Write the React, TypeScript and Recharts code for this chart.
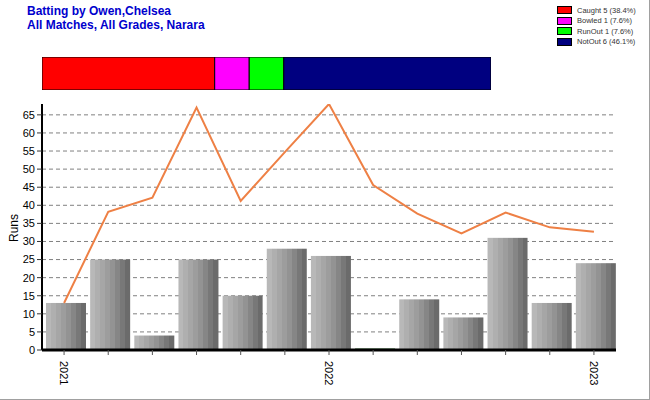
import React from 'react'
import {
  ComposedChart,
  BarChart,
  Bar,
  Line,
  XAxis,
  YAxis,
  CartesianGrid,
} from 'recharts'

// one entry per match, oldest first
const matches = ['1', '2', '3', '4', '5', '6', '7', '8', '9', '10', '11', '12', '13']
const runs = [13, 25, 4, 25, 15, 28, 26, 0, 14, 9, 31, 13, 24]
const average = [13, 38.2, 42.1, 67, 41.2, 54.7, 68, 45.6, 37.7, 32.2, 38, 33.9, 32.7]
const yearLabels = ['2021', '', '', '', '', '', '2022', '', '', '', '', '', '2023']
const runTicks = [0, 5, 10, 15, 20, 25, 30, 35, 40, 45, 50, 55, 60, 65]

const dismissalTypes = ['Caught', 'Bowled', 'RunOut', 'NotOut']
const dismissalCounts = [5, 1, 1, 6]
const dismissalColors = ['#FF0000', '#FF00FF', '#00FF00', '#000080']

const matchData = matches.map((m, i) => ({
  match: m,
  runs: runs[i],
  avg: average[i],
}))

const dismissalRow = [
  dismissalTypes.reduce(
    (row, t, i) => ({ ...row, [t]: dismissalCounts[i] }),
    { name: 'dismissals' } as Record<string, number | string>
  ),
]

const totalInnings = dismissalCounts.reduce((a, b) => a + b, 0)
const pctLabel = (n: number) => (Math.floor((n * 1000) / totalInnings) / 10).toFixed(1)

const stripes = ['#B8B8B8', '#AFAFAF', '#A6A6A6', '#9D9D9D', '#939393', '#868686', '#787878', '#6B6B6B']

// bars in the original sit a couple of px right of the tick
const StripedBar = (props: any) => {
  const { x, y, width, height } = props
  if (!height || height < 0.5) {
    return <rect x={x + 2} y={y - 1.5} width={width} height={1.5} fill='#2E6B2E' />
  }
  return <rect x={x + 2} y={y} width={width} height={height} fill='url(#barStripes)' />
}

const YearTick = (props: any) => {
  const { x, y, payload } = props
  const label = yearLabels[matches.indexOf(payload.value)]
  if (!label) return null
  return (
    <g transform={`translate(${x},${y})`}>
      <text
        transform='rotate(90)'
        x={4}
        y={0}
        dy='0.35em'
        textAnchor='start'
        fontSize={11}
        fontFamily='Arial, Liberation Sans, sans-serif'
        fill='#000'
      >
        {label}
      </text>
    </g>
  )
}

const App = () => {
  return (
    <div
      style={{
        position: 'absolute',
        left: 0,
        top: 0,
        width: 649,
        height: 399,
        background: '#fff',
        borderRight: '1px solid #A0A0A0',
        borderBottom: '1px solid #A0A0A0',
        fontFamily: 'Arial, Liberation Sans, sans-serif',
        overflow: 'hidden',
      }}
    >
      <div
        style={{
          position: 'absolute',
          left: 27,
          top: 5,
          fontSize: 12,
          fontWeight: 'bold',
          lineHeight: '13.5px',
          color: '#0000CD',
        }}
      >
        <div>Batting by Owen,Chelsea</div>
        <div>All Matches, All Grades, Narara</div>
      </div>

      <div style={{ position: 'absolute', left: 557, top: 5, fontSize: 7.5, color: '#333' }}>
        {dismissalTypes.map((t, i) => (
          <div key={t} style={{ display: 'flex', alignItems: 'center', height: 10.5 }}>
            <span
              style={{
                display: 'inline-block',
                width: 13,
                height: 6,
                background: dismissalColors[i],
                border: '1px solid #000',
                marginRight: 5,
              }}
            />
            {`${t} ${dismissalCounts[i]} (${pctLabel(dismissalCounts[i])}%)`}
          </div>
        ))}
      </div>

      <div style={{ position: 'absolute', left: 42, top: 57 }}>
        <BarChart
          width={449}
          height={33}
          data={dismissalRow}
          layout='vertical'
          margin={{ top: 0, right: 0, bottom: 0, left: 0 }}
          barCategoryGap={0}
        >
          <XAxis type='number' hide domain={[0, totalInnings]} />
          <YAxis type='category' dataKey='name' hide />
          {dismissalTypes.map((t, i) => (
            <Bar
              key={t}
              dataKey={t}
              stackId='d'
              fill={dismissalColors[i]}
              stroke='#000'
              strokeWidth={1}
              isAnimationActive={false}
            />
          ))}
        </BarChart>
      </div>

      <div
        style={{
          position: 'absolute',
          left: 14,
          top: 228,
          transform: 'translate(-50%, -50%) rotate(-90deg)',
          fontSize: 12,
          color: '#000',
        }}
      >
        Runs
      </div>

      <div style={{ position: 'absolute', left: 0, top: 0 }}>
        <ComposedChart
          width={650}
          height={400}
          data={matchData}
          margin={{ top: 104, right: 34, bottom: 10, left: 0 }}
        >
          <defs>
            <linearGradient id='barStripes' x1='0' y1='0' x2='1' y2='0'>
              {stripes.map((c, i) => [
                <stop key={`a${i}`} offset={i / stripes.length} stopColor={c} />,
                <stop key={`b${i}`} offset={(i + 1) / stripes.length} stopColor={c} />,
              ])}
            </linearGradient>
          </defs>
          <CartesianGrid vertical={false} syncWithTicks stroke='#808080' strokeDasharray='4 3' />
          <XAxis
            dataKey='match'
            height={40}
            tick={<YearTick />}
            interval={0}
            axisLine={{ stroke: '#000', strokeWidth: 3 }}
            tickLine={{ stroke: '#555' }}
            tickSize={5}
          />
          <YAxis
            width={42}
            domain={[0, 68]}
            allowDataOverflow
            ticks={runTicks}
            interval={0}
            axisLine={{ stroke: '#000', strokeWidth: 2 }}
            tickLine={{ stroke: '#333' }}
            tickSize={5}
            tickMargin={2}
            tick={{ fontSize: 11, fill: '#000', fontFamily: 'Arial, Liberation Sans, sans-serif' }}
          />
          <Bar dataKey='runs' barSize={40} shape={<StripedBar />} isAnimationActive={false} />
          <Line
            type='linear'
            dataKey='avg'
            stroke='#EE8045'
            strokeWidth={2}
            dot={false}
            activeDot={false}
            isAnimationActive={false}
          />
        </ComposedChart>
      </div>
    </div>
  )
}

export default App
